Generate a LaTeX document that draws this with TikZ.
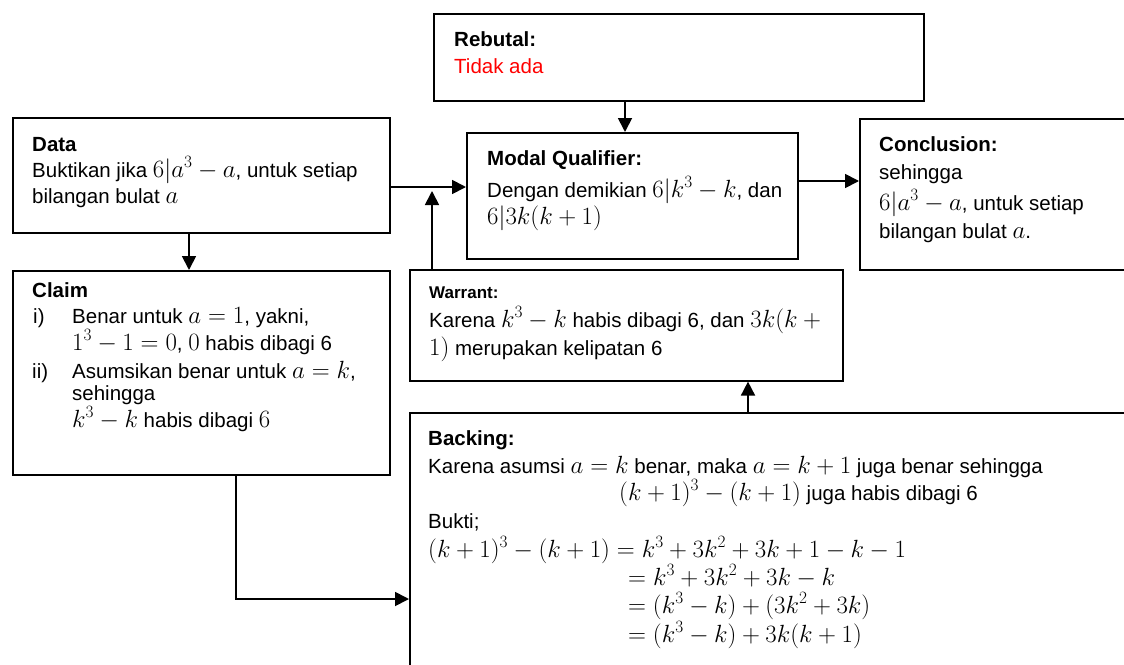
\documentclass[tikz,border=0pt]{standalone}
\usepackage{fontspec}
\setmainfont{Liberation Sans}
\DeclareMathSizes{20.5}{24}{17}{13}
\usetikzlibrary{arrows.meta}
\tikzset{
  box/.style={draw=black, line width=1.6pt, anchor=north west, inner sep=0pt},
  txt/.style={anchor=base west, inner sep=0pt, font=\fontsize{20.5}{24}\selectfont},
  smalltxt/.style={anchor=base west, inner sep=0pt, font=\fontsize{17}{20}\selectfont\bfseries},
  conn/.style={line width=1.8pt, -{Triangle[length=14pt,width=14pt]}},
  plain/.style={line width=1.8pt}
}
\begin{document}
\begin{tikzpicture}[x=1pt,y=-1pt]
\useasboundingbox (0,0) rectangle (1124,664);
\clip (0,0) rectangle (1124,664);
% boxes
\node[box, minimum width=490pt, minimum height=87pt] (reb) at (433,13) {};
\node[box, minimum width=331pt, minimum height=126pt] (mq) at (466,132) {};
\node[box, minimum width=280pt, minimum height=151pt] (con) at (859,118) {};
\node[box, minimum width=377pt, minimum height=115pt] (data) at (12,117) {};
\node[box, minimum width=377pt, minimum height=204pt] (claim) at (12,270) {};
\node[box, minimum width=433pt, minimum height=111pt] (war) at (409,269) {};
\node[box, minimum width=730pt, minimum height=270pt] (back) at (409,412) {};
% Rebutal
\node[txt] (rebT) at (454,46) {\textbf{Rebutal:}};
\node[txt, text=red] (rebA) at (454,73) {Tidak ada};
% Modal qualifier
\node[txt] (mqT) at (487,165) {\textbf{Modal Qualifier:}};
\node[txt] (mqA) at (487,197) {Dengan demikian $6|k^3-k$, dan};
\node[txt] (mqB) at (487,224) {$6|3k(k+1)$};
% Conclusion
\node[txt] (conT) at (879,151) {\textbf{Conclusion:}};
\node[txt] (conA) at (879,179) {sehingga};
\node[txt] (conB) at (879,210) {$6|a^3-a$, untuk setiap};
\node[txt] (conC) at (879,238) {bilangan bulat $a$.};
% Data
\node[txt] (dataT) at (32,151) {\textbf{Data}};
\node[txt] (dataA) at (32,177) {Buktikan jika $6|a^3-a$, untuk setiap};
\node[txt] (dataB) at (32,203) {bilangan bulat $a$};
% Claim
\node[txt] (claimT) at (32,297) {\textbf{Claim}};
\node[txt] (cli) at (33,323) {i)};
\node[txt] (clA) at (72,323) {Benar untuk $a=1$, yakni,};
\node[txt] (clB) at (72,350) {$1^3-1=0$, $0$ habis dibagi 6};
\node[txt] (clii) at (32,378) {ii)};
\node[txt] (clC) at (72,378) {Asumsikan benar untuk $a=k$,};
\node[txt] (clD) at (72,400) {sehingga};
\node[txt] (clE) at (72,427) {$k^3-k$ habis dibagi $6$};
% Warrant
\node[smalltxt] (warT) at (429,298) {Warrant:};
\node[txt] (warA) at (429,327) {Karena $k^3-k$ habis dibagi 6, dan $3k(k+{}$};
\node[txt] (warB) at (429,355) {$1)$ merupakan kelipatan 6};
% Backing
\node[txt] (backT) at (428,445) {\textbf{Backing:}};
\node[txt] (backA) at (428,473) {Karena asumsi $a=k$ benar, maka $a=k+1$ juga benar sehingga};
\node[txt] (backB) at (619,500) {$(k+1)^3-(k+1)$ juga habis dibagi 6};
\node[txt] (backC) at (428,528) {Bukti;};
\node[txt] (backD) at (428,557) {$(k+1)^3-(k+1)=k^3+3k^2+3k+1-k-1$};
\node[txt] (backE) at (628,585) {$=k^3+3k^2+3k-k$};
\node[txt] (backF) at (628,613) {$=(k^3-k)+(3k^2+3k)$};
\node[txt] (backG) at (628,642) {$=(k^3-k)+3k(k+1)$};
% connectors
\coordinate (jn) at (432,187);
\coordinate (cb) at (236,599);
\draw[conn] (reb.south -| 625,0) -- (mq.north -| 625,0);
\draw[conn] (data.east |- jn) -- (mq.west |- jn);
\draw[conn] (war.north -| jn) -- ([yshift=-4pt]jn);
\draw[conn] (mq.east |- 0,181) -- (con.west |- 0,181);
\draw[conn] (data.south -| 189,0) -- (claim.north -| 189,0);
\draw[conn] (back.north -| 748,0) -- (war.south -| 748,0);
\draw[conn] (claim.south -| cb) -- (cb) -- (back.west |- cb);
\end{tikzpicture}
\end{document}
